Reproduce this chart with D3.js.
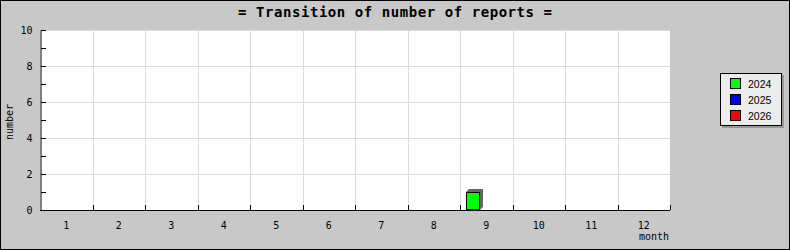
<!DOCTYPE html>
<html><head><meta charset="utf-8">
<script src="https://cdn.jsdelivr.net/npm/d3@7"></script>
<style>body{margin:0;background:#fff}svg{display:block}</style>
</head><body>
<script>
const months = ["1","2","3","4","5","6","7","8","9","10","11","12"];
const years = ["2024","2025","2026"];
const v2024 = [0,0,0,0,0,0,0,0,1,0,0,0];
const v2025 = [0,0,0,0,0,0,0,0,0,0,0,0];
const v2026 = [0,0,0,0,0,0,0,0,0,0,0,0];
const colors = ["#00ff00","#0000ff","#ff0000"];
const yTicks = [0,2,4,6,8,10];
const title = "= Transition of number of reports =";

const W=790,H=250, L=40,R=670,T=30,B=210;
const svg=d3.select("body").append("svg").attr("width",W).attr("height",H);
svg.append("rect").attr("x",0.5).attr("y",0.5).attr("width",W-1).attr("height",H-1)
  .attr("fill","#c8c8c8").attr("stroke","#000");
svg.append("rect").attr("x",L).attr("y",T).attr("width",R-L).attr("height",B-T).attr("fill","#fff");

const x0=d3.scaleBand().domain(months).range([L,R]);
const x1=d3.scaleBand().domain(years).range([6,48]);
const y=d3.scaleLinear().domain([0,10]).range([B,T]);

const mono="'DejaVu Sans Mono', monospace";
// grid
const g=svg.append("g").attr("stroke","#dcdcdc").attr("shape-rendering","crispEdges");
months.forEach((m,i)=>{ if(i>0) g.append("line").attr("x1",Math.round(x0(m))+0.5).attr("x2",Math.round(x0(m))+0.5).attr("y1",T).attr("y2",B); });
yTicks.filter(t=>t>0).forEach(t=>g.append("line").attr("x1",L).attr("x2",R).attr("y1",Math.round(y(t))+0.5).attr("y2",Math.round(y(t))+0.5));

// bars
const series=[v2024,v2025,v2026];
const d=3;
series.forEach((vals,si)=>{
  vals.forEach((v,mi)=>{
    if(v<=0) return;
    const bx=Math.round(x0(months[mi])+x1(years[si])), bw=x1.bandwidth(), by=Math.round(y(v));
    svg.append("polygon")
      .attr("points",[[bx,by],[bx+d,by-d],[bx+bw+d,by-d],[bx+bw+d,B-d],[bx+bw,B],[bx,B]].map(p=>p.join(",")).join(" "))
      .attr("fill","#666");
    svg.append("rect").attr("x",bx+0.5).attr("y",by+0.5).attr("width",bw-1).attr("height",B-by-1)
      .attr("fill",colors[si]).attr("stroke","#000").attr("shape-rendering","crispEdges");
  });
});

// axes
const yAxis=d3.axisLeft(y).tickValues(d3.range(0,11,1)).tickSize(-5).tickFormat(d=>d%2===0?d:"").tickPadding(8);
const ya=svg.append("g").attr("transform",`translate(${L+0.5},0)`).call(yAxis);
ya.select(".domain").attr("stroke","#000");
ya.selectAll(".tick line").attr("stroke","#000").attr("shape-rendering","crispEdges");
ya.selectAll("text").attr("font-family",mono).attr("font-size",10).attr("fill","#000");

const xa=svg.append("g").attr("transform",`translate(0,${B+0.5})`)
  .call(d3.axisBottom(x0).tickSize(0).tickPadding(11));
xa.select(".domain").attr("stroke","#000").attr("d",`M${L},0H${R}`);
xa.selectAll("text").attr("font-family",mono).attr("font-size",10).attr("fill","#000");
const tickPos=months.map(m=>x0(m)+x0.bandwidth());
svg.append("g").selectAll("line").data(tickPos).join("line")
  .attr("x1",d=>Math.round(d)+0.5).attr("x2",d=>Math.round(d)+0.5).attr("y1",B-5).attr("y2",B)
  .attr("stroke","#000").attr("shape-rendering","crispEdges");

// labels
svg.append("text").attr("x",W/2).attr("y",17).attr("text-anchor","middle")
  .attr("font-family",mono).attr("font-weight","bold").attr("font-size",14)
  .attr("textLength",314).attr("lengthAdjust","spacing").text(title);
svg.append("text").attr("x",R-1).attr("y",240).attr("text-anchor","end")
  .attr("font-family",mono).attr("font-size",10).text("month");
svg.append("text").attr("transform",`translate(13,${(T+B)/2+2}) rotate(-90)`).attr("text-anchor","middle")
  .attr("font-family",mono).attr("font-size",10).text("number");

// legend
const lg=svg.append("g");
lg.append("rect").attr("x",722).attr("y",75).attr("width",62).attr("height",53).attr("fill","#999");
lg.append("rect").attr("x",720.5).attr("y",73.5).attr("width",61).attr("height",52).attr("fill","#ececec").attr("stroke","#000");
years.forEach((yr,i)=>{
  lg.append("rect").attr("x",730.5).attr("y",78.5+i*16).attr("width",10).attr("height",10).attr("fill",colors[i]).attr("stroke","#000");
  lg.append("text").attr("x",748).attr("y",87.5+i*16).attr("font-family","'Liberation Sans', Arial, sans-serif").attr("font-size",10.5).text(yr);
});
</script>
</body></html>
